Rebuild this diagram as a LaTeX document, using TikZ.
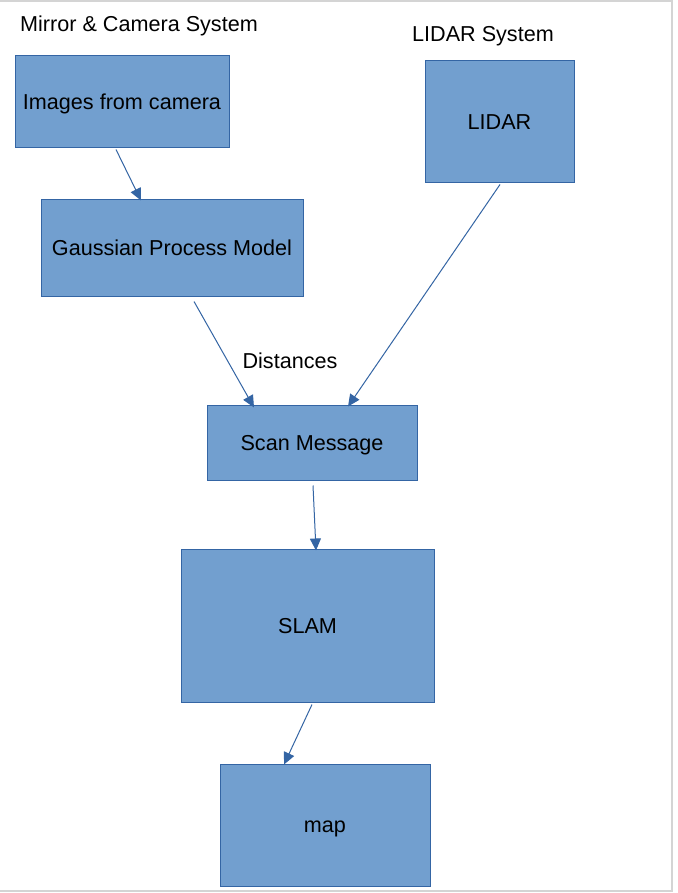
\documentclass[tikz,border=0pt]{standalone}
\usepackage{fontspec}
\setmainfont{Liberation Sans}
\usetikzlibrary{arrows.meta}
\definecolor{boxfill}{HTML}{729FCF}
\definecolor{boxline}{HTML}{3465A4}
\definecolor{framegray}{HTML}{D4D4D4}
\tikzset{
  box/.style={draw=boxline, fill=boxfill, line width=1pt, inner sep=0pt, text height=15.5pt, text depth=0pt, font=\fontsize{21.6}{26}\selectfont},
  lbl/.style={inner sep=0pt, text height=15.5pt, text depth=0pt, font=\fontsize{21.6}{26}\selectfont},
  conn/.style={draw=boxline, line width=1pt, -{Triangle[length=12pt,width=11pt]}},
}
\begin{document}
\begin{tikzpicture}[x=1pt,y=-1pt]
\useasboundingbox (0,0) rectangle (677,893);
\fill[white] (0,0) rectangle (677,893);
\draw[framegray, line width=1.5pt] (0,1) -- (672,1) -- (672,891) -- (0,891);

\node[lbl] (t1) at (139,24) {Mirror \& Camera System};
\node[lbl] (t2) at (483,34) {LIDAR System};
\node[lbl] (t3) at (290,361) {Distances};

\node[box, minimum width=214pt, minimum height=92pt] (img) at (122,102) {Images from camera};
\node[box, minimum width=262pt, minimum height=96pt] (gp) at (172,248) {Gaussian Process Model};
\node[box, minimum width=149pt, minimum height=122pt] (lidar) at (499.5,122) {LIDAR};
\node[box, minimum width=210pt, minimum height=75pt] (scan) at (312,442.5) {Scan Message};
\node[box, minimum width=253pt, minimum height=153pt] (slam) at (307.5,625.5) {SLAM};
\node[box, minimum width=210pt, minimum height=122pt] (map) at (325,825) {map};

\draw[conn] ([xshift=-6pt,yshift=-1pt]img.south) -- ([xshift=-31pt,yshift=-1pt]gp.north);
\draw[conn] ([xshift=22pt,yshift=-5pt]gp.south) -- ([xshift=-58pt,yshift=-3pt]scan.north);
\draw[conn] ([xshift=0.5pt,yshift=-1pt]lidar.south) -- ([xshift=36pt,yshift=-2pt]scan.north);
\draw[conn] ([xshift=1pt,yshift=-5pt]scan.south) -- ([xshift=8.5pt,yshift=-2pt]slam.north);
\draw[conn] ([xshift=4.5pt,yshift=-2pt]slam.south) -- ([xshift=-41pt,yshift=-1pt]map.north);
\end{tikzpicture}
\end{document}
